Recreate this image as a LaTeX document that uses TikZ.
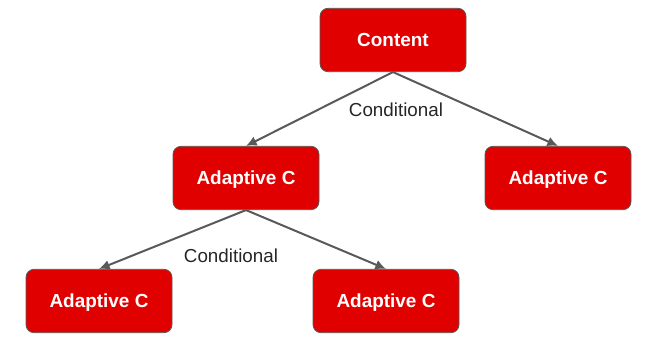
\documentclass[tikz,border=0pt]{standalone}
\usepackage{fontspec}
\setmainfont{Liberation Sans}
\usetikzlibrary{arrows.meta}
\definecolor{boxred}{RGB}{224,0,0}
\definecolor{edgegray}{RGB}{89,89,89}

\begin{document}
\begin{tikzpicture}[>={Latex[length=8pt,width=7.5pt]}, x=0.75pt, y=-0.75pt,
    box/.style={draw=edgegray, line width=0.6pt, fill=boxred, rounded corners=6pt,
        minimum width=109.5pt, minimum height=47.5pt, text=white,
        text height=10.2pt, text depth=0pt,
        font=\fontsize{14.2pt}{16pt}\selectfont\bfseries},
    link/.style={->, draw=edgegray, line width=1.5pt},
    cond/.style={text=black!85, font=\fontsize{14.1pt}{16pt}\selectfont}]

% --- page frame ----------------------------------------------------
\useasboundingbox (0,0) rectangle (650,361);

% --- top level -----------------------------------------------------
\node[box] (content) at (393,40) {Content};

% --- second level --------------------------------------------------
\node[box] (adaptL) at (246,178) {Adaptive C};
\node[box] (adaptR) at (558,178) {Adaptive C};

% --- third level ---------------------------------------------------
\node[box] (adaptLL) at (99,301)  {Adaptive C};
\node[box] (adaptLR) at (386,301) {Adaptive C};

% --- connectors ----------------------------------------------------
\draw[link] (content.south) -- (adaptL.north);
\draw[link] (content.south) -- (adaptR.north);
\draw[link] (adaptL.south) -- (adaptLL.north);
\draw[link] (adaptL.south) -- (adaptLR.north);

% --- edge labels ---------------------------------------------------
\node[cond] (cond1) at (396,110) {Conditional};
\node[cond] (cond2) at (231,256) {Conditional};

\end{tikzpicture}
\end{document}
